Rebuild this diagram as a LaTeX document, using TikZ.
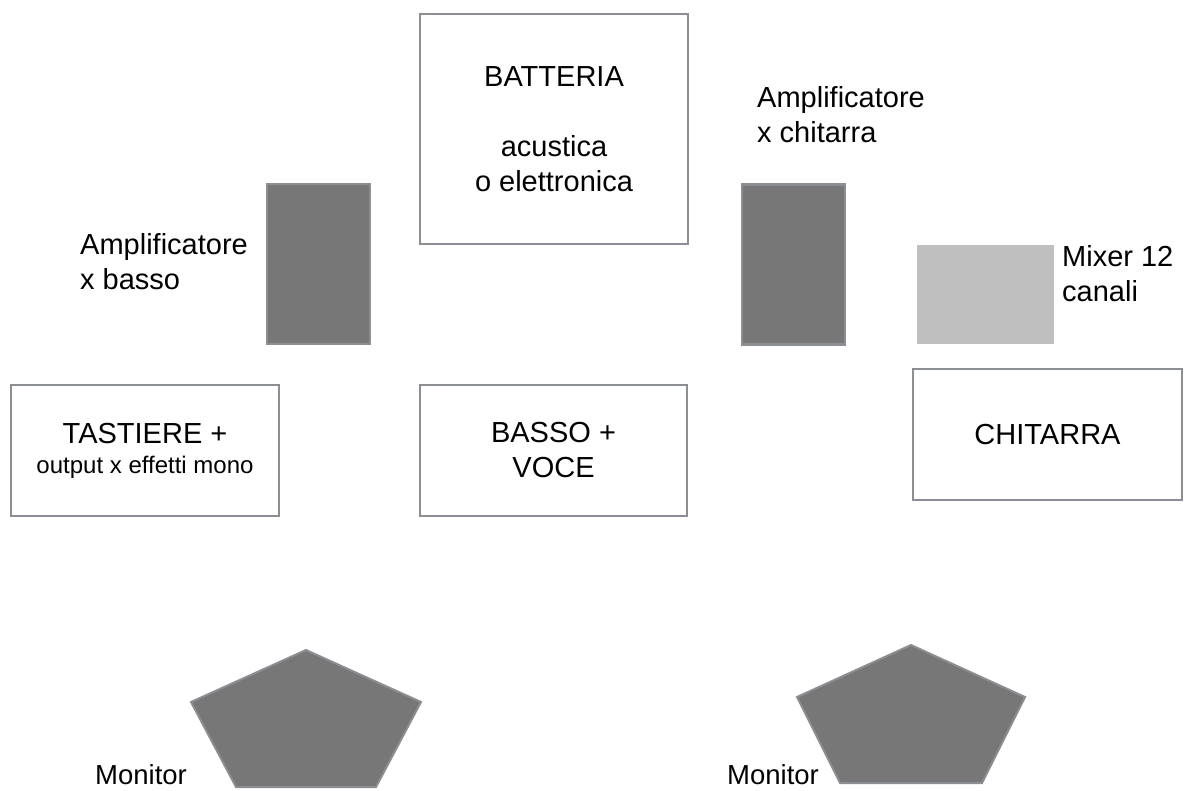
\documentclass[tikz,border=0pt]{standalone}
\usepackage{fontspec}
\setmainfont{Liberation Sans}
\definecolor{edgegray}{HTML}{8B8E92}
\definecolor{darkfill}{HTML}{777777}
\definecolor{lightfill}{HTML}{BFBFBF}
\begin{document}
\begin{tikzpicture}[x=1pt,y=-1pt,
  whitebox/.style={draw=edgegray,line width=2.5pt,fill=white,inner sep=0pt,align=center,
    font=\fontsize{29}{35}\selectfont},
  ampbox/.style={draw=edgegray,line width=2.5pt,fill=darkfill,inner sep=0pt,minimum width=103pt,minimum height=160pt},
  mixbox/.style={fill=lightfill,inner sep=0pt,minimum width=137pt,minimum height=99pt},
  lbl/.style={anchor=west,inner sep=0pt,align=left,font=\fontsize{29}{35}\selectfont},
  monshape/.style={draw=edgegray,line width=2pt,fill=darkfill,line join=miter}]
\useasboundingbox (0,0) rectangle (1189,790);
\fill[white] (0,0) rectangle (1189,790);

\node[whitebox,minimum width=268pt,minimum height=230pt] (batt) at (554,129)
  {BATTERIA\\[35pt]acustica\\o elettronica};
\node[ampbox] (ampb) at (318.5,264) {};
\node[ampbox] (ampc) at (793.5,264.5) {};
\node[mixbox] (mix) at (985.5,294.5) {};

\node[whitebox,minimum width=268pt,minimum height=131pt] (tast) at (145,450.5)
  {TASTIERE +\\[-5pt]{\fontsize{24}{30}\selectfont output x effetti mono}};
\node[whitebox,minimum width=267pt,minimum height=131pt] (basso) at (553.5,450.5)
  {BASSO +\\VOCE};
\node[whitebox,minimum width=269pt,minimum height=131pt] (chit) at (1047.5,434.5)
  {CHITARRA};

\node[lbl] (lampc) at (757,114.5) {Amplificatore\\x chitarra};
\node[lbl] (lampb) at (80,262) {Amplificatore\\x basso};
\node[lbl] (lmix) at (1062,274) {Mixer 12\\canali};

\draw[monshape] (306,650) -- (421,702) -- (376,787) -- (236,787) -- (191,702) -- cycle;
\draw[monshape] (911,645) -- (1025,697) -- (982,783) -- (840,783) -- (797,697) -- cycle;

\node[lbl,font=\fontsize{27.5}{32}\selectfont] (mon1) at (95,775) {Monitor};
\node[lbl,font=\fontsize{27.5}{32}\selectfont] (mon2) at (727,775) {Monitor};
\end{tikzpicture}
\end{document}
